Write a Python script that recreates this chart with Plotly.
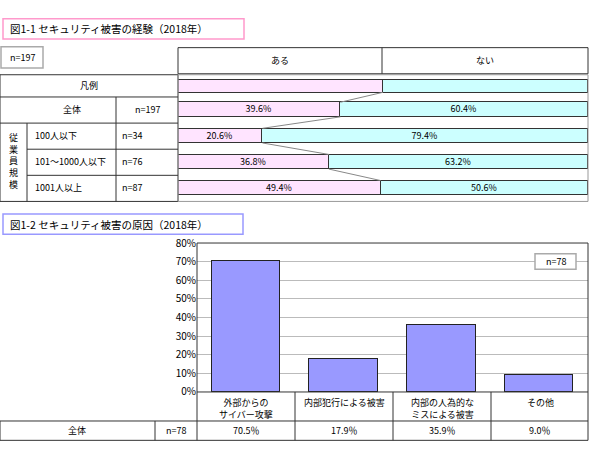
import plotly.graph_objects as go

W, H = 590, 457
FONT = "Noto Sans CJK JP"

# ---- data ----
rows = ["凡例", "全体", "100人以下", "101～1000人以下", "1001人以上"]
row_n = ["", "n=197", "n=34", "n=76", "n=87"]
aru = [50.0, 39.6, 20.6, 36.8, 49.4]
nai = [50.0, 60.4, 79.4, 63.2, 50.6]
row_pos = [-0.9, 0, 1, 2, 3]
row_w = [0.48, 0.56, 0.56, 0.56, 0.56]

causes = ["外部からの<br>サイバー攻撃", "内部犯行による被害", "内部の人為的な<br>ミスによる被害", "その他"]
cause_vals = [70.5, 17.9, 35.9, 9.0]
cause_labels = ["70.5％", "17.9％", "35.9％", "9.0％"]

def X(p): return p / W
def Y(p): return 1 - p / H

fig = go.Figure()

# top stacked bars
fig.add_trace(go.Bar(y=row_pos, x=aru, orientation="h", width=row_w,
    marker=dict(color="#FFE4FF", line=dict(color="#333", width=1)),
    text=[("" if i == 0 else f"{v:.1f}%") for i, v in enumerate(aru)],
    textposition="inside", insidetextanchor="middle", constraintext="none",
    textfont=dict(size=9, color="#000"),
    xaxis="x", yaxis="y", showlegend=False, hoverinfo="skip"))
fig.add_trace(go.Bar(y=row_pos, x=nai, orientation="h", width=row_w,
    marker=dict(color="#CCFFFF", line=dict(color="#333", width=1)),
    text=[("" if i == 0 else f"{v:.1f}%") for i, v in enumerate(nai)],
    textposition="inside", insidetextanchor="middle", constraintext="none",
    textfont=dict(size=9, color="#000"),
    xaxis="x", yaxis="y", showlegend=False, hoverinfo="skip"))
# connector lines
for i in range(len(rows) - 1):
    fig.add_trace(go.Scatter(x=[aru[i], aru[i + 1]],
        y=[row_pos[i] + row_w[i] / 2, row_pos[i + 1] - row_w[i + 1] / 2],
        mode="lines", line=dict(color="#888", width=1), xaxis="x", yaxis="y",
        showlegend=False, hoverinfo="skip"))

# bottom bars
fig.add_trace(go.Bar(x=causes, y=cause_vals, width=0.7,
    marker=dict(color="#9999FF", line=dict(color="#222", width=1)),
    xaxis="x2", yaxis="y2", showlegend=False, hoverinfo="skip"))

shapes = []
ann = []
def line(x0, y0, x1, y1, c="#333", w=1):
    shapes.append(dict(type="line", xref="paper", yref="paper", x0=X(x0), y0=Y(y0), x1=X(x1), y1=Y(y1), line=dict(color=c, width=w)))
def rect(x0, y0, x1, y1, c="#333", w=1, fill=None):
    shapes.append(dict(type="rect", xref="paper", yref="paper", x0=X(x0), y0=Y(y0), x1=X(x1), y1=Y(y1), line=dict(color=c, width=w), fillcolor=fill or "rgba(0,0,0,0)", layer="above"))
def text(x, y, t, size=9, anchor="center"):
    ann.append(dict(xref="paper", yref="paper", x=X(x), y=Y(y), text=t, showarrow=False, xanchor=anchor, yanchor="middle", font=dict(size=size, color="#000", family=FONT)))

# titles
rect(3, 11, 244, 32, c="#FF99CC", w=1.5)
text(8, 21.5, "図1-1 セキュリティ被害の経験（2018年）", size=10.5, anchor="left")
rect(1, 40, 43, 62, c="#aaa", w=1.5)
text(22, 51, "n=197")
rect(3, 213, 243, 234, c="#9999FF", w=1.5)
text(8, 223.5, "図1-2 セキュリティ被害の原因（2018年）", size=10.5, anchor="left")

# top header
rect(178, 41, 588, 68)
line(382, 41, 382, 68)
text(280, 54.5, "ある")
text(485, 54.5, "ない")
# left table
rect(0, 69, 178, 200)
rect(178, 69, 588, 200, c="#999")
line(0, 92, 178, 92); line(0, 119, 178, 119)
line(27, 146, 178, 146); line(27, 173, 178, 173)
line(116, 92, 116, 200); line(27, 119, 27, 200)
text(89, 80.5, "凡例")
text(72, 105, "全体")
text(147, 105, row_n[1])
for i, yy in zip(range(2, 5), [132, 159, 186]):
    text(33, yy, rows[i], anchor="left")
    text(120, yy, row_n[i], anchor="left")
text(13, 158, "従<br>業<br>員<br>規<br>模", size=9)

# bottom
rect(197, 243, 588, 397, c="#333")
for xx in [197, 295, 393, 491, 588]:
    line(xx, 397, xx, 447)
line(0, 427, 588, 427); line(0, 447, 588, 447)
line(0, 427, 0, 447); line(155, 427, 155, 447)
text(77, 437, "全体"); text(176, 437, "n=78")
for i, c in enumerate(causes):
    cx = 197 + 98 * i + 49
    ann.append(dict(xref="paper", yref="paper", x=X(cx), y=Y(399), text=c, showarrow=False, xanchor="center", yanchor="top", font=dict(size=9, color="#000", family=FONT)))
    text(cx, 437, cause_labels[i])
rect(535, 254, 576, 270, c="#aaa", w=1.5, fill="white")
text(555.5, 262, "n=78")

fig.update_layout(
    width=W, height=H, margin=dict(l=0, r=0, t=0, b=0),
    paper_bgcolor="white", plot_bgcolor="white", barmode="stack", bargap=0,
    font=dict(family=FONT, size=9, color="#000"),
    xaxis=dict(domain=[X(178), X(588)], range=[0, 100], visible=False, fixedrange=True),
    yaxis=dict(domain=[Y(200), Y(69)], range=[3.52, -1.333], visible=False, fixedrange=True),
    xaxis2=dict(domain=[X(197), X(588)], anchor="y2", showticklabels=False, showgrid=False, zeroline=False),
    yaxis2=dict(domain=[Y(397), Y(243)], anchor="x2", range=[0, 80], dtick=10, ticksuffix="%",
                gridcolor="#bbb", zeroline=False, tickfont=dict(size=10), ticks=""),
    shapes=shapes, annotations=ann,
)
fig.write_html("out.html", config={"displayModeBar": False},
               post_script="document.body.style.margin='0';document.body.style.overflow='hidden';")
